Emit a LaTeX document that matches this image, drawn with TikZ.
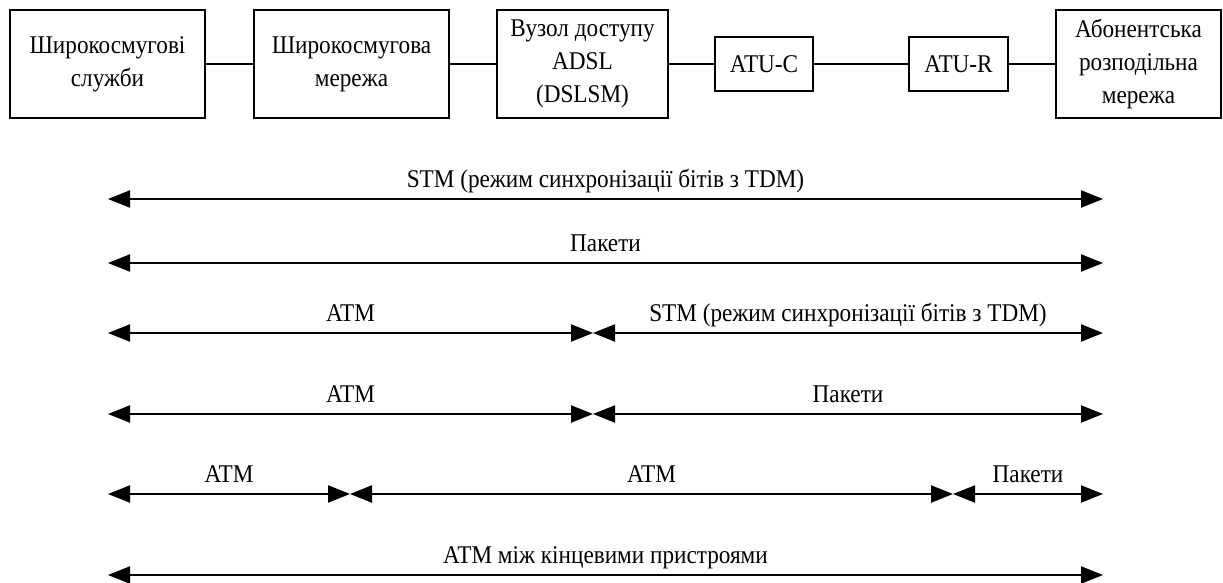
\documentclass[tikz,border=0pt]{standalone}
\usepackage{fontspec}
\setmainfont[FakeStretch=0.91]{Liberation Serif}
\usetikzlibrary{arrows.meta}

\begin{document}
\begin{tikzpicture}[x=1pt,y=-1pt,font=\fontsize{25.5}{33}\selectfont,
    blk/.style={draw,line width=1.8pt,align=center,inner sep=0pt,minimum height=108},
    atu/.style={draw,line width=1.8pt,inner sep=0pt,minimum height=54},
    lnk/.style={line width=1.8pt},
    spanarr/.style={line width=2.2pt,{Triangle[length=22pt,width=17pt]}-{Triangle[length=22pt,width=17pt]}},
    lbl/.style={anchor=base,yshift=12pt,inner sep=0pt}]
  \useasboundingbox (0,0) rectangle (1223,583);
  \node[blk,minimum width=195] (svc) at (107.5,64) {Широкосмугові\\служби};
  \node[blk,minimum width=195] (net) at (351.5,64) {Широкосмугова\\мережа};
  \node[blk,minimum width=171] (dslam) at (582.5,64) {Вузол доступу\\ADSL\\(DSLSM)};
  \node[atu,minimum width=98] (atuc) at (764,64) {ATU-C};
  \node[atu,minimum width=99] (atur) at (958.5,64) {ATU-R};
  \node[blk,minimum width=165] (sub) at (1138.5,64) {Абонентська\\розподільна\\мережа};
  \draw[lnk] (svc) -- (net) (net) -- (dslam) (dslam) -- (atuc) (atuc) -- (atur) (atur) -- (sub);
  \foreach \n/\y in {1/199,2/263,3/333,4/414,5/494,6/575}{
    \coordinate (l\n) at (108,\y);
    \coordinate (r\n) at (1103,\y);
  }
  \coordinate (m3) at (593,333);
  \coordinate (m4) at (593,414);
  \coordinate (p5) at (350,494);
  \coordinate (q5) at (953,494);
  \draw[spanarr] (l1) -- node[lbl] (t1) {STM (режим синхронізації бітів з TDM)} (r1);
  \draw[spanarr] (l2) -- node[lbl] (t2) {Пакети} (r2);
  \draw[spanarr] (l3) -- node[lbl] (t3a) {ATM} (m3);
  \draw[spanarr] (m3) -- node[lbl] (t3b) {STM (режим синхронізації бітів з TDM)} (r3);
  \draw[spanarr] (l4) -- node[lbl] (t4a) {ATM} (m4);
  \draw[spanarr] (m4) -- node[lbl] (t4b) {Пакети} (r4);
  \draw[spanarr] (l5) -- node[lbl] (t5a) {ATM} (p5);
  \draw[spanarr] (p5) -- node[lbl] (t5b) {ATM} (q5);
  \draw[spanarr] (q5) -- node[lbl] (t5c) {Пакети} (r5);
  \draw[spanarr] (l6) -- node[lbl] (t6) {ATM між кінцевими пристроями} (r6);
\end{tikzpicture}
\end{document}
